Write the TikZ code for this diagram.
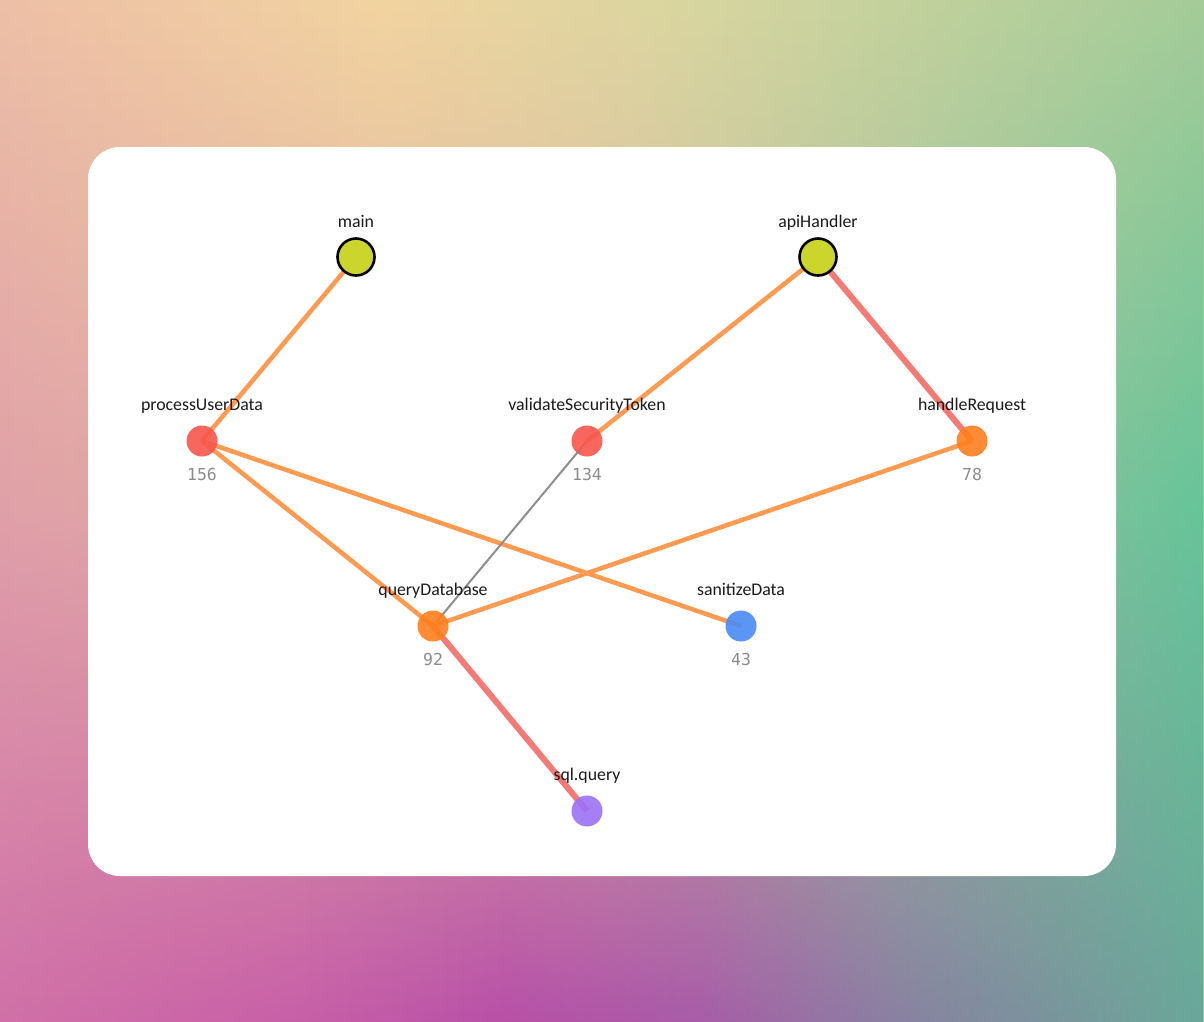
\documentclass[tikz,border=0pt]{standalone}
\usepackage{fontspec}
\setmainfont{Carlito}
\newfontfamily\cntfont{DejaVu Sans Mono}
\usetikzlibrary{fadings,backgrounds}

\definecolor{bgtl}{HTML}{EEC0A6}
\definecolor{bgtm}{HTML}{F2D4A0}
\definecolor{bgtm2}{HTML}{D8D6A0}
\definecolor{bgtr}{HTML}{A4CC98}
\definecolor{bgml}{HTML}{E0A0A8}
\definecolor{bgmm}{HTML}{DCB8A0}
\definecolor{bgmr}{HTML}{66C49A}
\definecolor{bgbl}{HTML}{D070A8}
\definecolor{bgb1}{HTML}{C860A8}
\definecolor{bgb2}{HTML}{B850A8}
\definecolor{bgb3}{HTML}{A85CA8}
\definecolor{bgb4}{HTML}{8A80A2}
\definecolor{bgbr}{HTML}{6AA898}

\definecolor{rootgreen}{HTML}{CBD52B}
\definecolor{fnred}{HTML}{F8564C}
\definecolor{fnorange}{HTML}{FF7F1E}
\definecolor{fnblue}{HTML}{4A8BF5}
\definecolor{fnpurple}{HTML}{9B72F6}
\definecolor{edgeorange}{HTML}{FF9A50}
\definecolor{edgered}{HTML}{F47A76}
\definecolor{edgegray}{HTML}{8E8E8E}
\definecolor{labelink}{HTML}{1A1A1A}
\definecolor{cntgray}{HTML}{8C8C8C}

\pgfdeclarehorizontalshading{bgtop}{100bp}{color(0bp)=(bgtl); color(25bp)=(bgtl); color(41bp)=(bgtm); color(54bp)=(bgtm2); color(75bp)=(bgtr); color(100bp)=(bgtr)}
\pgfdeclarehorizontalshading{bgmid}{100bp}{color(0bp)=(bgml); color(25bp)=(bgml); color(50bp)=(bgmm); color(75bp)=(bgmr); color(100bp)=(bgmr)}
\pgfdeclarehorizontalshading{bgbot}{100bp}{color(0bp)=(bgbl); color(25bp)=(bgbl); color(37bp)=(bgb1); color(46bp)=(bgb2); color(54bp)=(bgb3); color(62bp)=(bgb4); color(75bp)=(bgbr); color(100bp)=(bgbr)}

\tikzfading[name=fademid, top color=transparent!100, bottom color=transparent!0, middle color=transparent!0]
\tikzfading[name=fadebot, top color=transparent!100, bottom color=transparent!0, middle color=transparent!100]

\begin{document}
\begin{tikzpicture}[
    x=1pt, y=-1pt,
    root/.style={circle, inner sep=0pt, minimum size=37pt, fill=rootgreen, draw=black, line width=2.6pt},
    fn/.style={circle, inner sep=0pt, minimum size=31pt, draw=none, fill opacity=0.9},
    lbl/.style={font=\fontsize{17.8}{20}\selectfont, text=labelink, inner sep=0pt, text depth=0pt, opacity=1, yshift=14.5pt},
    rlbl/.style={lbl, yshift=-4.5pt},
    cnt/.style={font=\cntfont\fontsize{16.5}{18}\selectfont, text=cntgray, inner sep=0pt, opacity=1, yshift=-11.5pt},
    calls/.style={line width=4.5pt, draw=edgeorange},
    hot/.style={line width=6pt, draw=edgered},
    weak/.style={line width=2pt, draw=edgegray},
]
\useasboundingbox (0,0) rectangle (1204,1022);

% Nodes
\node (main) [root, label={[rlbl]above:main}] at (356,257) {};
\node (apih) [root, label={[rlbl]above:apiHandler}] at (818,257) {};
\node (pud) [fn, fill=fnred, label={[lbl]above:processUserData}, label={[cnt]below:156}] at (202,441) {};
\node (vst) [fn, fill=fnred, label={[lbl]above:validateSecurityToken}, label={[cnt]below:134}] at (587,441) {};
\node (hreq) [fn, fill=fnorange, label={[lbl]above:handleRequest}, label={[cnt]below:78}] at (972,441) {};
\node (qdb) [fn, fill=fnorange, label={[lbl]above:queryDatabase}, label={[cnt]below:92}] at (433,626) {};
\node (sani) [fn, fill=fnblue, label={[lbl]above:sanitizeData}, label={[cnt]below:43}] at (741,626) {};
\node (sqlq) [fn, fill=fnpurple, label={[lbl]above:sql.query}] at (587,811) {};

\begin{scope}[on background layer]
% Backdrop and card
\shade[shading=bgtop] (0,0) rectangle (1204,1022);
\shade[shading=bgmid, path fading=fademid] (0,0) rectangle (1204,1022);
\shade[shading=bgbot, path fading=fadebot] (0,0) rectangle (1204,1022);
\fill[white, rounded corners=32pt] (88,147) rectangle (1116,876);

% Call edges
\draw[calls] (main.center) -- (pud.center);
\draw[calls] (apih.center) -- (vst.center);
\draw[hot] (apih.center) -- (hreq.center);
\draw[calls] (pud.center) -- (qdb.center);
\draw[calls] (pud.center) -- (sani.center);
\draw[weak] (vst.center) -- (qdb.center);
\draw[calls] (hreq.center) -- (qdb.center);
\draw[hot] (qdb.center) -- (sqlq.center);
\end{scope}
\end{tikzpicture}
\end{document}
